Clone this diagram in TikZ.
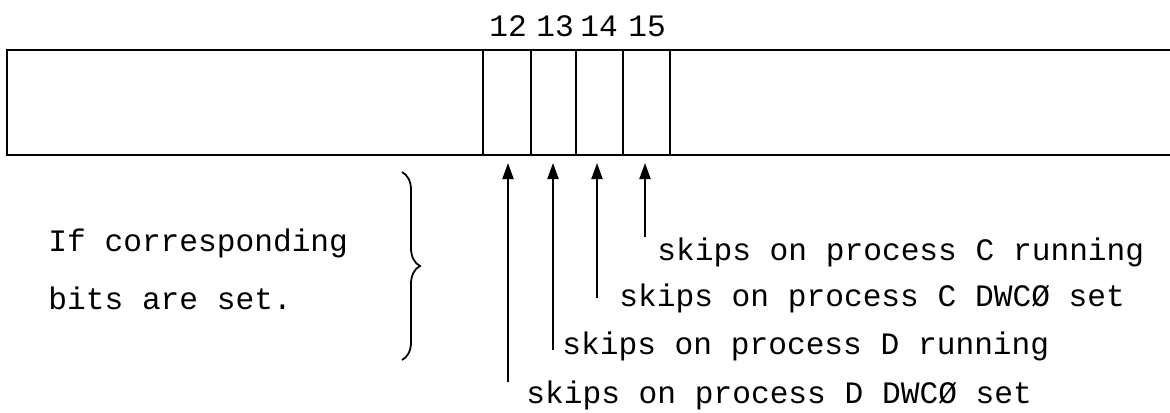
\documentclass[tikz,border=0pt]{standalone}
\usepackage{fontspec}
\setmonofont{Liberation Mono}
\usepackage{tikz}
\usetikzlibrary{arrows.meta,decorations.pathreplacing}

\begin{document}
\begin{tikzpicture}[x=0.5pt,y=-0.5pt,
    every node/.style={font=\ttfamily\fontsize{15.6}{18}\selectfont,inner sep=0pt},
    cellline/.style={line width=0.9pt},
    skiparrow/.style={line width=1pt,-{Triangle[width=5.5pt,length=8pt]}}]
                    \useasboundingbox (0,0) rectangle (1170,412);

                    % register outline, open on the right
                    \draw[line width=1.4pt] (1170,50) -- (7,50) -- (7,155) -- (1170,155);

                    % bit cells 12..15
                    \draw[cellline] (483,50) -- (483,155);
                    \draw[cellline] (531,50) -- (531,155);
                    \draw[cellline] (576,50) -- (576,155);
                    \draw[cellline] (623,50) -- (623,155);
                    \draw[cellline] (670,50) -- (670,155);

                    \node (B12) at (508,26) {12};
                    \node (B13) at (555,26) {13};
                    \node (B14) at (599,26) {14};
                    \node (B15) at (647,26) {15};

                    \coordinate (H12) at (508,163);
                    \coordinate (H13) at (553,163);
                    \coordinate (H14) at (597,163);
                    \coordinate (H15) at (645,163);

                    \coordinate (T12) at (508,382);
                    \coordinate (T13) at (553,350);
                    \coordinate (T14) at (597,298);
                    \coordinate (T15) at (645,237);

                    \node[anchor=west] (S15) at (657,252) {skips on process C running};
                    \node[anchor=west] (S14) at (619,298) {skips on process C DWCØ set};
                    \node[anchor=west] (S13) at (562,346) {skips on process D running};
                    \node[anchor=west] (S12) at (526,395) {skips on process D DWCØ set};

                    \draw[skiparrow] (T12) -- (H12);
                    \draw[skiparrow] (T13) -- (H13);
                    \draw[skiparrow] (T14) -- (H14);
                    \draw[skiparrow] (T15) -- (H15);

                    % note on the left
                    \node[anchor=west] (N1) at (48,243) {If corresponding};
                    \node[anchor=west] (N2) at (48,298) {bits are set.};
                    \coordinate (BrTop) at (402,172);
                    \coordinate (BrBot) at (402,360);
                    \draw[line width=0.9pt,decorate,decoration={brace,amplitude=9pt}] (BrTop) -- (BrBot);
                \end{tikzpicture}
\end{document}
